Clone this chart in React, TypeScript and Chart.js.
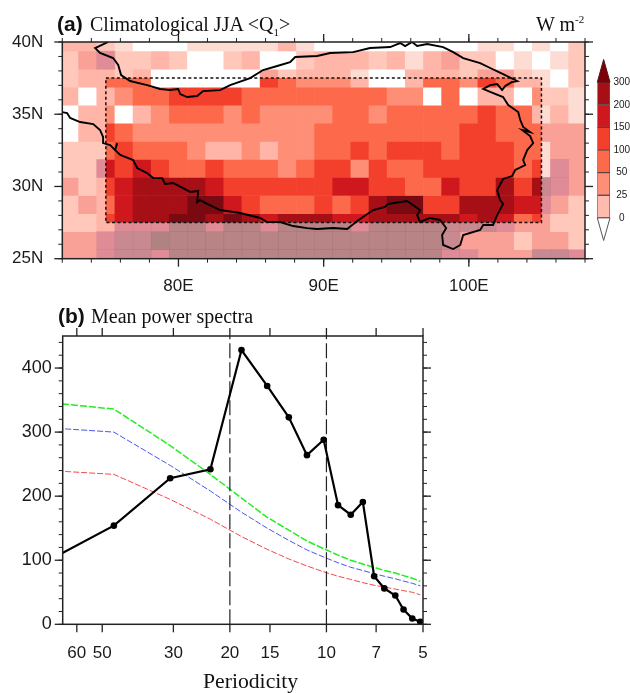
import React, { useEffect, useRef } from "react";
import { Chart, registerables } from "chart.js";

Chart.register(...registerables);

// ---------- panel (a) data ----------
const lons = [72.5,73.75,75,76.25,77.5,78.75,80,81.25,82.5,83.75,85,86.25,87.5,88.75,90,91.25,92.5,93.75,95,96.25,97.5,98.75,100,101.25,102.5,103.75,105,106.25,107.5];
const lats = [40,38.75,37.5,36.25,35,33.75,32.5,31.25,30,28.75,27.5,26.25,25];
const _ = null;
// values outside the dashed box (W m-2); null = under the box
const outerQ1 = [
  [15,15,8,2,-5,-5,-5,2,2,2,2,2,15,2,-5,-5,-5,-5,-5,-5,-5,-5,-5,2,2,-5,2,-5,8],
  [8,22,22,8,8,15,8,-5,-5,8,15,-5,-5,8,15,15,15,8,15,2,15,22,8,8,-5,2,-5,2,8],
  [8,15,15,8,15,-5,-5,-5,-5,-5,-5,22,8,15,15,15,2,-5,-5,15,15,15,8,22,22,8,2,-5,8],
  [15,-5,15,_,_,_,_,_,_,_,_,_,_,_,_,_,_,_,_,_,_,_,_,_,_,_,8,8,2],
  [-5,15,15,_,_,_,_,_,_,_,_,_,_,_,_,_,_,_,_,_,_,_,_,_,_,_,2,15,2],
  [-5,15,15,_,_,_,_,_,_,_,_,_,_,_,_,_,_,_,_,_,_,_,_,_,_,_,22,22,22],
  [8,8,8,_,_,_,_,_,_,_,_,_,_,_,_,_,_,_,_,_,_,_,_,_,_,_,2,22,22],
  [8,8,22,_,_,_,_,_,_,_,_,_,_,_,_,_,_,_,_,_,_,_,_,_,_,_,2,22,22],
  [22,8,15,_,_,_,_,_,_,_,_,_,_,_,_,_,_,_,_,_,_,_,_,_,_,_,22,22,22],
  [8,22,15,_,_,_,_,_,_,_,_,_,_,_,_,_,_,_,_,_,_,_,_,_,_,_,22,22,8],
  [8,8,15,22,22,22,22,22,22,22,22,22,22,22,22,22,22,22,22,22,22,22,22,22,22,22,22,8,8],
  [22,22,22,22,22,22,22,22,22,22,22,22,22,22,22,22,22,22,22,22,22,22,22,22,22,8,22,22,8],
  [22,22,22,22,22,22,22,22,22,22,22,22,22,22,22,22,22,22,22,22,22,22,22,22,22,22,22,22,22],
];
// terrain mask level for each outer cell
const terrainMask = [
  [0,0,0,0,0,0,0,0,0,0,0,0,0,0,0,0,0,0,0,0,0,0,0,0,0,0,0,0,0],
  [0,0,1,0,0,0,0,0,0,0,0,0,0,0,0,0,0,0,0,0,0,0,0,0,0,0,0,0,0],
  [0,0,0,0,0,0,0,0,0,0,0,0,0,0,0,0,0,0,0,0,0,0,0,0,0,0,0,0,0],
  [0,0,0,0,0,0,0,0,0,0,0,0,0,0,0,0,0,0,0,0,0,0,0,0,0,0,0,0,0],
  [0,0,0,0,0,0,0,0,0,0,0,0,0,0,0,0,0,0,0,0,0,0,0,0,0,0,0,0,0],
  [0,0,0,0,0,0,0,0,0,0,0,0,0,0,0,0,0,0,0,0,0,0,0,0,0,0,0,0,0],
  [0,0,0,0,0,0,0,0,0,0,0,0,0,0,0,0,0,0,0,0,0,0,0,0,0,0,0,0,0],
  [0,0,1,0,0,0,0,0,0,0,0,0,0,0,0,0,0,0,0,0,0,0,0,0,0,0,0,1,0],
  [0,0,0,0,0,0,0,0,0,0,0,0,0,0,0,0,0,0,0,0,0,0,0,0,0,0,2,1,0],
  [0,0,0,0,0,0,0,0,0,0,0,0,0,0,0,0,0,0,0,0,0,0,0,0,0,0,1,0,0],
  [0,0,0,1,1,1,3,3,1,3,3,1,3,3,3,3,1,3,3,3,3,2,2,2,1,0,0,0,0],
  [0,0,1,2,2,4,3,3,3,3,3,3,3,3,3,3,3,3,3,3,3,2,0,0,0,0,0,0,0],
  [0,0,1,2,2,1,3,3,3,3,3,3,3,3,3,3,3,3,3,3,3,1,1,0,0,0,2,2,1],
];
// values inside the dashed box, 75E..105E
const boxLons = lons.slice(2, 27);
const boxLats = [37.5,36.25,35,33.75,32.5,31.25,30,28.75,27.5];
const boxQ1 = [
  [75,75,75,-5,-5,-5,-5,-5,-5,125,75,35,35,35,15,-5,-5,15,75,75,35,125,75,15,15],
  [15,35,75,75,125,125,125,125,75,75,75,75,75,75,75,75,35,35,-5,75,-5,15,15,-5,35],
  [35,-5,15,35,75,75,75,35,75,35,35,35,35,75,75,35,75,75,75,75,75,125,75,75,15],
  [125,75,35,35,35,35,35,35,35,35,35,35,75,75,75,75,75,75,75,75,125,125,75,75,75],
  [75,125,75,75,75,35,15,15,35,15,35,35,75,75,125,75,125,125,125,75,125,125,125,75,75],
  [175,125,175,125,75,75,125,75,75,75,35,75,125,125,35,125,75,75,125,125,125,125,125,75,125],
  [125,175,250,250,250,250,175,125,125,125,125,125,125,175,175,125,125,75,75,175,125,125,250,125,250],
  [75,175,250,250,250,320,320,175,125,75,75,75,125,75,125,250,320,320,125,125,250,250,250,175,175],
  [125,175,250,250,320,320,250,320,250,175,250,250,250,175,175,250,250,250,250,250,175,250,175,75,125],
];
// boundary of the plateau (lon, lat)
const plateauLon = [75.16,74.26,74.6,75.5,75.85,76.05,76.67,77.84,78.74,79.43,79.98,80.12,80.6,81.29,81.7,82.87,83.56,84.94,85.83,86.8,87.69,88.04,89.55,90.45,92.03,93.2,94.58,95.27,95.61,96.09,96.44,97.13,98.23,98.92,99.61,100.78,101.47,102.36,103.33,102.98,102.5,102.29,101.95,101.47,100.99,101.47,102.36,102.71,103.4,103.54,103.74,104.22,103.67,104.22,104.43,104.02,103.74,103.88,103.19,102.98,102.36,101.95,102.15,102.36,101.95,101.67,100.99,100.78,99.61,99.41,98.92,98.23,98.16,98.44,98.02,97.33,96.64,96.44,96.64,95.75,94.44,94.23,93.41,92.31,91.62,90.66,89.55,88.86,87.9,87.0,86.11,85.63,84.25,82.87,81.98,81.49,81.29,81.36,80.81,80.32,79.63,79.08,78.88,78.26,77.84,77.16,76.88,75.99,75.64,75.78];
const plateauLat = [40.0,39.58,39.24,38.89,38.41,37.71,37.3,37.02,36.75,36.68,36.75,36.4,36.19,36.26,36.6,36.67,37.02,37.5,38.06,38.34,38.61,38.96,39.03,39.24,39.3,39.58,39.65,39.93,39.72,40.0,39.72,39.86,39.65,39.3,38.89,38.54,38.2,37.78,37.3,37.23,36.95,36.68,37.09,37.02,36.75,36.54,36.19,35.64,35.15,34.6,34.12,33.77,33.91,33.49,33.0,32.52,31.83,31.48,31.14,30.72,30.52,29.75,29.06,28.79,28.02,27.33,27.33,26.99,26.64,25.95,25.67,25.95,26.64,27.12,27.68,27.82,27.54,28.02,28.37,28.99,28.79,28.58,28.37,27.61,27.06,27.12,27.06,27.12,27.26,27.54,27.54,27.82,28.16,28.37,28.79,29.06,28.92,29.69,29.62,29.89,30.24,30.17,30.58,30.58,30.93,31.28,31.83,32.18,32.52,33.0];
const westLon = [72.0,72.33,72.54,73.23,74.13,74.6,74.81,74.81,75.3,75.64];
const westLat = [35.15,35.08,34.74,34.46,34.32,33.91,33.42,33.0,32.87,32.52];
const boxEdgeLon = [75,105,105,75,75];
const boxEdgeLat = [37.5,37.5,27.5,27.5,37.5];

// ---------- colour bar ----------
const levels = [0,25,50,100,150,200,300];
const binColors = ["#ffbcae","#fe8e75","#fd6a4b","#f2402c","#cf181e","#a50f15"];
const capTopColor = "#7a0009";

// ---------- panel (b) data ----------
const periods = [92,46,30.7,23,18.4,15.3,13.1,11.5,10.2,9.2,8.4,7.7,7.1,6.6,6.1,5.75,5.4,5.1];
const meanPower = [74,154,228,242,428,372,323,264,288,186,171,191,75,56,45,23,9,4];
const greenBound = [351,336,279,234,197,167,147,130,118,108,100,94,89,84,80,76,72,67];
const blueBound = [310,300,248,208,175,150,131,116,105,96,89,84,79,75,71,67.5,64,60];
const redBound = [243,234,195,164,137,117,102,91,82,75,70,65,61,58,55,52.5,50,46];
const periodTicks = [60,50,30,20,15,10,7,5];
const markedPeriods = [20,10];

function q1Color(v: number): string {
  if (v < 0) return "#ffffff";
  if (v < 5) return "#fddcd3";
  if (v < 12) return "#ffc8bb";
  if (v < 20) return "#ffb5a7";
  if (v < 25) return "#f9a097";
  for (let i = 1; i < levels.length - 1; i++) if (v < levels[i + 1]) return binColors[i];
  return "#7a0a12";
}
const maskColors = ["rgba(0,0,0,0)","rgba(199,120,149,0.5)","rgba(167,123,140,0.6)","rgba(156,120,127,0.7)","rgba(152,120,123,0.75)"];

const range = (a: number, b: number, s: number) => {
  const r: number[] = [];
  for (let v = a; v <= b + 1e-6; v += s) r.push(v);
  return r;
};
const line = (xs: number[], ys: number[]) => xs.map((x, i) => ({ x, y: ys[i] }));

function framePlugin(spec: { xMajor: number[]; xMinor: number[]; yMajor: number[]; yMinor: number[] }) {
  return {
    id: "frameTicks",
    afterDraw(chart: any) {
      const { ctx, chartArea: a, scales } = chart;
      ctx.save();
      ctx.strokeStyle = "#222";
      const seg = (x0: number, y0: number, x1: number, y1: number) => {
        ctx.beginPath(); ctx.moveTo(x0, y0); ctx.lineTo(x1, y1); ctx.stroke();
      };
      ctx.lineWidth = 1;
      const xt = (vals: number[], len: number) => vals.forEach((v) => {
        const p = scales.x.getPixelForValue(v);
        seg(p, a.bottom, p, a.bottom + len);
        seg(p, a.top, p, a.top - len);
      });
      const yt = (vals: number[], len: number) => vals.forEach((v) => {
        const p = scales.y.getPixelForValue(v);
        seg(a.left, p, a.left - len, p);
        seg(a.right, p, a.right + len, p);
      });
      xt(spec.xMinor, 4); yt(spec.yMinor, 4);
      ctx.lineWidth = 1.3;
      xt(spec.xMajor, 8); yt(spec.yMajor, 8);
      ctx.lineWidth = 1.5;
      ctx.strokeRect(a.left, a.top, a.right - a.left, a.bottom - a.top);
      ctx.restore();
    },
  };
}

const sansTick = { family: "'Liberation Sans', Arial, sans-serif", size: 17 };

function mapConfig(): any {
  const outer = lats.map((lat, r) => ({
    type: "bar", order: 5, grouped: false, barPercentage: 1, categoryPercentage: 1, borderWidth: 0,
    data: lons.map((x, c) => ({ x, y: [lat - 0.625, lat + 0.625], v: outerQ1[r][c] })).filter((d) => d.v !== null),
    backgroundColor: (c: any) => q1Color(c.raw ? c.raw.v : 0),
  }));
  const mask = lats.map((lat, r) => ({
    type: "bar", order: 4, grouped: false, barPercentage: 1, categoryPercentage: 1, borderWidth: 0,
    data: lons.map((x, c) => ({ x, y: [lat - 0.625, lat + 0.625], v: terrainMask[r][c] })).filter((d) => d.v > 0),
    backgroundColor: (c: any) => maskColors[c.raw ? c.raw.v : 0],
  }));
  const inner = boxLats.map((lat, r) => ({
    type: "bar", order: 3, grouped: false, barPercentage: 1, categoryPercentage: 1, borderWidth: 0,
    clip: { left: -43.6, right: -43.6, top: -36.1, bottom: -36.1 },
    data: boxLons.map((x, c) => ({ x, y: [lat - 0.625, lat + 0.625], v: boxQ1[r][c] })),
    backgroundColor: (c: any) => q1Color(c.raw ? c.raw.v : 0),
  }));
  const outline = (xs: number[], ys: number[], extra: any) => ({
    type: "line", order: 1, data: line(xs, ys), borderColor: "#000", borderWidth: 1.9,
    pointRadius: 0, tension: 0, fill: false, ...extra,
  });
  return {
    type: "bar",
    data: {
      datasets: [
        ...outer, ...mask, ...inner,
        outline(boxEdgeLon, boxEdgeLat, { order: 2, borderWidth: 1.5, borderDash: [3, 2.5], borderColor: "#111" }),
        outline(plateauLon, plateauLat, {}),
        outline(westLon, westLat, {}),
      ],
    },
    options: {
      animation: false, responsive: false, devicePixelRatio: 1,
      layout: { padding: { left: 0, right: 45, top: 42, bottom: 0 } },
      plugins: { legend: { display: false }, tooltip: { enabled: false }, title: { display: false } },
      scales: {
        x: {
          type: "linear", min: 72, max: 108, offset: false,
          grid: { display: false, drawTicks: false }, border: { display: false },
          afterBuildTicks: (s: any) => { s.ticks = [80, 90, 100].map((value) => ({ value })); },
          afterFit: (s: any) => { s.height = 300 - 258.7; },
          ticks: { font: sansTick, color: "#1a1a1a", padding: 17, maxRotation: 0, autoSkip: false, callback: (v: any) => `${v}E` },
        },
        y: {
          type: "linear", min: 25, max: 40,
          grid: { display: false, drawTicks: false }, border: { display: false },
          afterBuildTicks: (s: any) => { s.ticks = [25, 30, 35, 40].map((value) => ({ value })); },
          afterFit: (s: any) => { s.width = 62.3; },
          ticks: { font: sansTick, color: "#1a1a1a", padding: 19, autoSkip: false, callback: (v: any) => `${v}N` },
        },
      },
    },
    plugins: [framePlugin({ xMajor: [80, 90, 100], xMinor: range(72, 108, 2), yMajor: [25, 30, 35, 40], yMinor: range(25, 40, 1) })],
  };
}

function barConfig(): any {
  const segs = binColors.map((color, i) => ({
    type: "bar", order: 2, grouped: false, barThickness: 12.7, borderWidth: 1, borderSkipped: false,
    borderColor: "rgba(70,30,30,0.75)", backgroundColor: color,
    data: [{ x: 0.5, y: [i, i + 1] }],
  }));
  const cap = (ys: number[], fillColor: string, stroke: string) => ({
    type: "line", order: 1, data: line([0, 0.5, 1, 0], ys), borderColor: stroke, borderWidth: 1,
    backgroundColor: fillColor, fill: "shape", pointRadius: 0, tension: 0, clip: false,
  });
  return {
    type: "bar",
    data: { datasets: [...segs, cap([6, 7, 6, 6], capTopColor, "#5a1010"), cap([0, -1, 0, 0], "#ffffff", "#555")] },
    options: {
      animation: false, responsive: false, devicePixelRatio: 1,
      layout: { padding: { left: 7.3, right: 0, top: 9.2, bottom: 8.2 } },
      plugins: { legend: { display: false }, tooltip: { enabled: false } },
      scales: {
        x: { type: "linear", min: 0, max: 1, offset: false, display: false },
        y: {
          type: "linear", position: "right", min: -1, max: 7,
          grid: { display: false, drawTicks: false }, border: { display: false },
          afterBuildTicks: (s: any) => { s.ticks = levels.map((_l, value) => ({ value })); },
          afterFit: (s: any) => { s.width = 20; },
          ticks: {
            font: { family: "'Liberation Sans', Arial, sans-serif", size: 10 }, color: "#1a1a1a",
            padding: 3.5, crossAlign: "center", autoSkip: false,
            callback: (v: any) => String(levels[v]),
          },
        },
      },
    },
  };
}

function spectrumConfig(): any {
  const bound = (ys: number[], color: string, dash: number[], w: number) => ({
    data: line(periods, ys), borderColor: color, borderWidth: w, borderDash: dash, pointRadius: 0, tension: 0, order: 3,
  });
  return {
    type: "line",
    data: {
      datasets: [
        {
          data: line(periods, meanPower), borderColor: "#000", backgroundColor: "#000", borderWidth: 2.2,
          pointRadius: 3.3, pointBackgroundColor: "#000", pointBorderWidth: 0, tension: 0, order: 1,
        },
        bound(greenBound, "#22ee22", [7, 2], 1.5),
        bound(blueBound, "#4a55ee", [6, 2], 1),
        bound(redBound, "#f04a4a", [6, 2], 1),
        ...markedPeriods.map((p) => ({
          data: [{ x: p, y: 0 }, { x: p, y: 450 }], borderColor: "#222", borderWidth: 1.2,
          borderDash: [15, 4], pointRadius: 0, order: 2,
        })),
      ],
    },
    options: {
      animation: false, responsive: false, devicePixelRatio: 1,
      layout: { padding: { left: 0, right: 207, top: 36, bottom: 0 } },
      plugins: { legend: { display: false }, tooltip: { enabled: false } },
      scales: {
        x: {
          type: "logarithmic", reverse: true, min: 5, max: 66.4,
          grid: { display: false, drawTicks: false }, border: { display: false },
          afterBuildTicks: (s: any) => { s.ticks = periodTicks.map((value) => ({ value })); },
          afterFit: (s: any) => { s.height = 393 - 324.3; },
          ticks: { font: sansTick, color: "#1a1a1a", padding: 19, maxRotation: 0, autoSkip: false, callback: (v: any) => String(v) },
        },
        y: {
          type: "linear", min: 0, max: 450,
          grid: { display: false, drawTicks: false }, border: { display: false },
          afterBuildTicks: (s: any) => { s.ticks = [0, 100, 200, 300, 400].map((value) => ({ value })); },
          afterFit: (s: any) => { s.width = 62.7; },
          ticks: { font: { ...sansTick, size: 18 }, color: "#1a1a1a", padding: 11, autoSkip: false, callback: (v: any) => String(v) },
        },
      },
    },
    plugins: [framePlugin({ xMajor: periodTicks, xMinor: [], yMajor: [0, 100, 200, 300, 400], yMinor: range(0, 440, 20) })],
  };
}

const serif = "'Liberation Serif', 'Times New Roman', serif";
const sans = "'Liberation Sans', Arial, sans-serif";
const abs = (left: number, top: number, extra: React.CSSProperties = {}): React.CSSProperties => ({
  position: "absolute", left, top, whiteSpace: "nowrap", lineHeight: 1, color: "#111", ...extra,
});

export default function App() {
  const mapRef = useRef<HTMLCanvasElement>(null);
  const barRef = useRef<HTMLCanvasElement>(null);
  const specRef = useRef<HTMLCanvasElement>(null);
  useEffect(() => {
    const charts = [
      new Chart(mapRef.current as any, mapConfig()),
      new Chart(barRef.current as any, barConfig()),
      new Chart(specRef.current as any, spectrumConfig()),
    ];
    return () => charts.forEach((c) => c.destroy());
  }, []);
  return (
    <div style={{ position: "absolute", left: 0, top: 0, width: 630, height: 693, overflow: "hidden", background: "#fff" }}>
      <canvas ref={mapRef} width={630} height={300} style={{ position: "absolute", left: 0, top: 0, width: 630, height: 300 }} />
      <canvas ref={barRef} width={40} height={200} style={{ position: "absolute", left: 590, top: 50, width: 40, height: 200 }} />
      <canvas ref={specRef} width={630} height={393} style={{ position: "absolute", left: 0, top: 300, width: 630, height: 393 }} />
      <span style={abs(57, 13, { fontFamily: sans, fontWeight: 700, fontSize: 21 })}>(a)</span>
      <span style={abs(90, 14, { fontFamily: serif, fontSize: 20 })}>
        Climatological JJA &lt;Q<sub style={{ fontSize: 11, lineHeight: 0 }}>1</sub>&gt;
      </span>
      <span style={abs(536, 14, { fontFamily: serif, fontSize: 20 })}>
        W m<sup style={{ fontSize: 11, lineHeight: 0 }}>-2</sup>
      </span>
      <span style={abs(58, 305, { fontFamily: sans, fontWeight: 700, fontSize: 21 })}>(b)</span>
      <span style={abs(91, 306, { fontFamily: serif, fontSize: 20 })}>Mean power spectra</span>
      <span style={abs(203, 671, { fontFamily: serif, fontSize: 21.7 })}>Periodicity</span>
    </div>
  );
}
